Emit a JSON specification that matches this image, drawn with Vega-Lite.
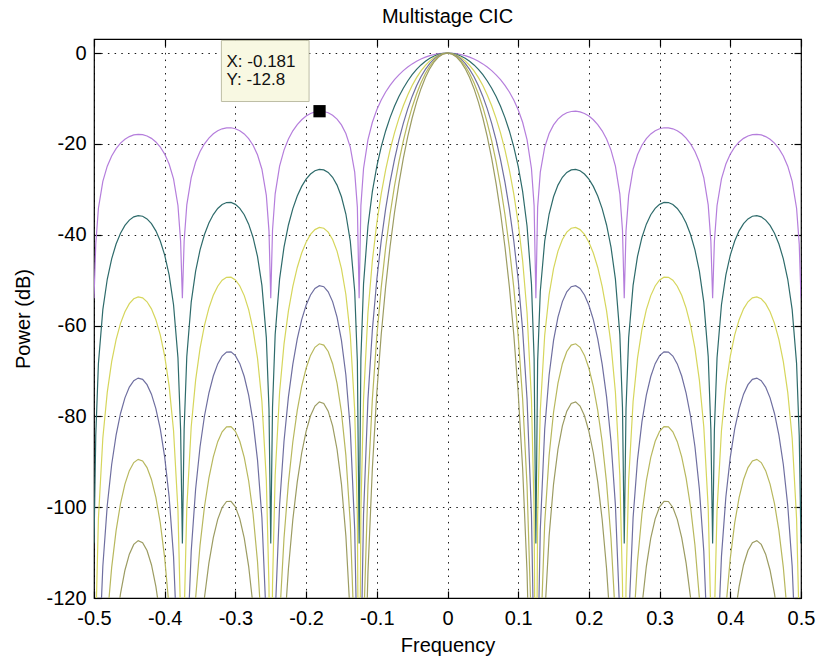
{
  "$schema": "https://vega.github.io/schema/vega-lite/v6.json",
  "width": 707,
  "height": 559,
  "autosize": "none",
  "padding": {"left": 94, "top": 39, "right": 18, "bottom": 63},
  "background": "white",
  "title": {"text": "Multistage CIC", "font": "Liberation Sans", "fontSize": 20, "fontWeight": "normal", "color": "#000", "offset": 11},
  "config": {"view": {"stroke": "#000", "strokeWidth": 1.2}},
  "datasets": {
    "cic": [
      {"f":-0.5,"s1":-54,"s2":-108,"s3":-162,"s4":-216,"s5":-270,"s6":-324},
      {"f":-0.4975,"s1":-42.1,"s2":-84.21,"s3":-126.31,"s4":-168.42,"s5":-210.52,"s6":-252.62},
      {"f":-0.49375,"s1":-34.17,"s2":-68.35,"s3":-102.52,"s4":-136.69,"s5":-170.87,"s6":-205.04},
      {"f":-0.4875,"s1":-28.26,"s2":-56.51,"s3":-84.77,"s4":-113.02,"s5":-141.28,"s6":-169.53},
      {"f":-0.48125,"s1":-24.91,"s2":-49.81,"s3":-74.72,"s4":-99.62,"s5":-124.53,"s6":-149.44},
      {"f":-0.475,"s1":-22.65,"s2":-45.3,"s3":-67.95,"s4":-90.6,"s5":-113.26,"s6":-135.91},
      {"f":-0.46875,"s1":-21.03,"s2":-42.06,"s3":-63.09,"s4":-84.12,"s5":-105.15,"s6":-126.18},
      {"f":-0.4625,"s1":-19.84,"s2":-39.68,"s3":-59.53,"s4":-79.37,"s5":-99.21,"s6":-119.05},
      {"f":-0.45625,"s1":-18.98,"s2":-37.96,"s3":-56.95,"s4":-75.93,"s5":-94.91,"s6":-113.89},
      {"f":-0.45,"s1":-18.39,"s2":-36.78,"s3":-55.17,"s4":-73.56,"s5":-91.95,"s6":-110.34},
      {"f":-0.44375,"s1":-18.03,"s2":-36.07,"s3":-54.1,"s4":-72.14,"s5":-90.17,"s6":-108.2},
      {"f":-0.4375,"s1":-17.89,"s2":-35.79,"s3":-53.68,"s4":-71.57,"s5":-89.47,"s6":-107.36},
      {"f":-0.43125,"s1":-17.97,"s2":-35.93,"s3":-53.9,"s4":-71.86,"s5":-89.83,"s6":-107.8},
      {"f":-0.425,"s1":-18.26,"s2":-36.51,"s3":-54.77,"s4":-73.02,"s5":-91.28,"s6":-109.53},
      {"f":-0.41875,"s1":-18.78,"s2":-37.56,"s3":-56.33,"s4":-75.11,"s5":-93.89,"s6":-112.67},
      {"f":-0.4125,"s1":-19.57,"s2":-39.14,"s3":-58.71,"s4":-78.28,"s5":-97.86,"s6":-117.43},
      {"f":-0.40625,"s1":-20.69,"s2":-41.38,"s3":-62.07,"s4":-82.76,"s5":-103.45,"s6":-124.14},
      {"f":-0.4,"s1":-22.24,"s2":-44.48,"s3":-66.73,"s4":-88.97,"s5":-111.21,"s6":-133.45},
      {"f":-0.39375,"s1":-24.43,"s2":-48.86,"s3":-73.28,"s4":-97.71,"s5":-122.14,"s6":-146.57},
      {"f":-0.3875,"s1":-27.71,"s2":-55.42,"s3":-83.12,"s4":-110.83,"s5":-138.54,"s6":-166.25},
      {"f":-0.38125,"s1":-33.56,"s2":-67.11,"s3":-100.67,"s4":-134.22,"s5":-167.78,"s6":-201.34},
      {"f":-0.3775,"s1":-41.44,"s2":-82.89,"s3":-124.33,"s4":-165.78,"s5":-207.22,"s6":-248.66},
      {"f":-0.375,"s1":-54,"s2":-108,"s3":-162,"s4":-216,"s5":-270,"s6":-324},
      {"f":-0.3725,"s1":-41.39,"s2":-82.78,"s3":-124.16,"s4":-165.55,"s5":-206.94,"s6":-248.33},
      {"f":-0.36875,"s1":-33.42,"s2":-66.83,"s3":-100.25,"s4":-133.66,"s5":-167.08,"s6":-200.49},
      {"f":-0.3625,"s1":-27.43,"s2":-54.85,"s3":-82.28,"s4":-109.7,"s5":-137.13,"s6":-164.55},
      {"f":-0.35625,"s1":-24,"s2":-48.01,"s3":-72.01,"s4":-96.01,"s5":-120.02,"s6":-144.02},
      {"f":-0.35,"s1":-21.68,"s2":-43.35,"s3":-65.03,"s4":-86.7,"s5":-108.38,"s6":-130.06},
      {"f":-0.34375,"s1":-19.98,"s2":-39.96,"s3":-59.94,"s4":-79.92,"s5":-99.9,"s6":-119.88},
      {"f":-0.3375,"s1":-18.72,"s2":-37.44,"s3":-56.15,"s4":-74.87,"s5":-93.59,"s6":-112.31},
      {"f":-0.33125,"s1":-17.78,"s2":-35.56,"s3":-53.34,"s4":-71.12,"s5":-88.91,"s6":-106.69},
      {"f":-0.325,"s1":-17.11,"s2":-34.23,"s3":-51.34,"s4":-68.45,"s5":-85.57,"s6":-102.68},
      {"f":-0.31875,"s1":-16.68,"s2":-33.36,"s3":-50.03,"s4":-66.71,"s5":-83.39,"s6":-100.07},
      {"f":-0.3125,"s1":-16.46,"s2":-32.92,"s3":-49.38,"s4":-65.84,"s5":-82.3,"s6":-98.75},
      {"f":-0.30625,"s1":-16.45,"s2":-32.9,"s3":-49.35,"s4":-65.8,"s5":-82.25,"s6":-98.7},
      {"f":-0.3,"s1":-16.66,"s2":-33.31,"s3":-49.97,"s4":-66.63,"s5":-83.29,"s6":-99.94},
      {"f":-0.29375,"s1":-17.1,"s2":-34.19,"s3":-51.29,"s4":-68.39,"s5":-85.49,"s6":-102.58},
      {"f":-0.2875,"s1":-17.8,"s2":-35.61,"s3":-53.41,"s4":-71.22,"s5":-89.02,"s6":-106.82},
      {"f":-0.28125,"s1":-18.84,"s2":-37.67,"s3":-56.51,"s4":-75.34,"s5":-94.18,"s6":-113.02},
      {"f":-0.275,"s1":-20.3,"s2":-40.6,"s3":-60.9,"s4":-81.2,"s5":-101.5,"s6":-121.79},
      {"f":-0.26875,"s1":-22.39,"s2":-44.79,"s3":-67.18,"s4":-89.57,"s5":-111.97,"s6":-134.36},
      {"f":-0.2625,"s1":-25.58,"s2":-51.16,"s3":-76.74,"s4":-102.32,"s5":-127.9,"s6":-153.48},
      {"f":-0.25625,"s1":-31.33,"s2":-62.66,"s3":-94,"s4":-125.33,"s5":-156.66,"s6":-187.99},
      {"f":-0.2525,"s1":-39.16,"s2":-78.32,"s3":-117.48,"s4":-156.64,"s5":-195.81,"s6":-234.97},
      {"f":-0.25,"s1":-54,"s2":-108,"s3":-162,"s4":-216,"s5":-270,"s6":-324},
      {"f":-0.2475,"s1":-39.03,"s2":-78.05,"s3":-117.08,"s4":-156.1,"s5":-195.13,"s6":-234.15},
      {"f":-0.24375,"s1":-30.99,"s2":-61.98,"s3":-92.97,"s4":-123.96,"s5":-154.95,"s6":-185.94},
      {"f":-0.2375,"s1":-24.9,"s2":-49.79,"s3":-74.69,"s4":-99.59,"s5":-124.49,"s6":-149.38},
      {"f":-0.23125,"s1":-21.37,"s2":-42.73,"s3":-64.1,"s4":-85.47,"s5":-106.84,"s6":-128.2},
      {"f":-0.225,"s1":-18.93,"s2":-37.86,"s3":-56.79,"s4":-75.72,"s5":-94.65,"s6":-113.57},
      {"f":-0.21875,"s1":-17.12,"s2":-34.24,"s3":-51.36,"s4":-68.48,"s5":-85.6,"s6":-102.71},
      {"f":-0.2125,"s1":-15.74,"s2":-31.48,"s3":-47.21,"s4":-62.95,"s5":-78.69,"s6":-94.43},
      {"f":-0.20625,"s1":-14.68,"s2":-29.36,"s3":-44.03,"s4":-58.71,"s5":-73.39,"s6":-88.07},
      {"f":-0.2,"s1":-13.88,"s2":-27.76,"s3":-41.65,"s4":-55.53,"s5":-69.41,"s6":-83.29},
      {"f":-0.19375,"s1":-13.31,"s2":-26.63,"s3":-39.94,"s4":-53.26,"s5":-66.57,"s6":-79.88},
      {"f":-0.1875,"s1":-12.96,"s2":-25.91,"s3":-38.87,"s4":-51.83,"s5":-64.79,"s6":-77.74},
      {"f":-0.18125,"s1":-12.8,"s2":-25.61,"s3":-38.41,"s4":-51.22,"s5":-64.02,"s6":-76.82},
      {"f":-0.175,"s1":-12.86,"s2":-25.72,"s3":-38.58,"s4":-51.44,"s5":-64.3,"s6":-77.15},
      {"f":-0.16875,"s1":-13.14,"s2":-26.28,"s3":-39.42,"s4":-52.56,"s5":-65.71,"s6":-78.85},
      {"f":-0.1625,"s1":-13.68,"s2":-27.36,"s3":-41.05,"s4":-54.73,"s5":-68.41,"s6":-82.09},
      {"f":-0.15625,"s1":-14.54,"s2":-29.08,"s3":-43.62,"s4":-58.16,"s5":-72.7,"s6":-87.24},
      {"f":-0.15,"s1":-15.82,"s2":-31.64,"s3":-47.46,"s4":-63.28,"s5":-79.1,"s6":-94.91},
      {"f":-0.14375,"s1":-17.72,"s2":-35.44,"s3":-53.16,"s4":-70.88,"s5":-88.6,"s6":-106.31},
      {"f":-0.1375,"s1":-20.7,"s2":-41.4,"s3":-62.1,"s4":-82.8,"s5":-103.5,"s6":-124.19},
      {"f":-0.13125,"s1":-26.23,"s2":-52.46,"s3":-78.7,"s4":-104.93,"s5":-131.16,"s6":-157.39},
      {"f":-0.1275,"s1":-33.92,"s2":-67.85,"s3":-101.77,"s4":-135.69,"s5":-169.62,"s6":-203.54},
      {"f":-0.125,"s1":-54,"s2":-108,"s3":-162,"s4":-216,"s5":-270,"s6":-324},
      {"f":-0.1225,"s1":-33.59,"s2":-67.19,"s3":-100.78,"s4":-134.38,"s5":-167.97,"s6":-201.56},
      {"f":-0.11875,"s1":-25.41,"s2":-50.82,"s3":-76.22,"s4":-101.63,"s5":-127.04,"s6":-152.45},
      {"f":-0.1125,"s1":-19.05,"s2":-38.09,"s3":-57.14,"s4":-76.19,"s5":-95.24,"s6":-114.28},
      {"f":-0.10625,"s1":-15.23,"s2":-30.46,"s3":-45.69,"s4":-60.92,"s5":-76.15,"s6":-91.37},
      {"f":-0.1,"s1":-12.48,"s2":-24.95,"s3":-37.43,"s4":-49.91,"s5":-62.39,"s6":-74.86},
      {"f":-0.09375,"s1":-10.33,"s2":-20.66,"s3":-30.99,"s4":-41.32,"s5":-51.65,"s6":-61.97},
      {"f":-0.0875,"s1":-8.58,"s2":-17.15,"s3":-25.73,"s4":-34.3,"s5":-42.88,"s6":-51.46},
      {"f":-0.08125,"s1":-7.11,"s2":-14.22,"s3":-21.33,"s4":-28.44,"s5":-35.55,"s6":-42.65},
      {"f":-0.075,"s1":-5.86,"s2":-11.72,"s3":-17.58,"s4":-23.44,"s5":-29.31,"s6":-35.17},
      {"f":-0.06875,"s1":-4.79,"s2":-9.58,"s3":-14.37,"s4":-19.16,"s5":-23.95,"s6":-28.74},
      {"f":-0.0625,"s1":-3.87,"s2":-7.73,"s3":-11.6,"s4":-15.47,"s5":-19.34,"s6":-23.2},
      {"f":-0.05625,"s1":-3.07,"s2":-6.14,"s3":-9.21,"s4":-12.28,"s5":-15.35,"s6":-18.42},
      {"f":-0.05,"s1":-2.38,"s2":-4.77,"s3":-7.15,"s4":-9.54,"s5":-11.92,"s6":-14.3},
      {"f":-0.04375,"s1":-1.8,"s2":-3.6,"s3":-5.4,"s4":-7.2,"s5":-9,"s6":-10.79},
      {"f":-0.0375,"s1":-1.31,"s2":-2.61,"s3":-3.92,"s4":-5.22,"s5":-6.53,"s6":-7.84},
      {"f":-0.03125,"s1":-0.9,"s2":-1.8,"s3":-2.69,"s4":-3.59,"s5":-4.49,"s6":-5.39},
      {"f":-0.025,"s1":-0.57,"s2":-1.14,"s3":-1.71,"s4":-2.28,"s5":-2.85,"s6":-3.42},
      {"f":-0.01875,"s1":-0.32,"s2":-0.64,"s3":-0.96,"s4":-1.28,"s5":-1.6,"s6":-1.91},
      {"f":-0.0125,"s1":-0.14,"s2":-0.28,"s3":-0.42,"s4":-0.56,"s5":-0.71,"s6":-0.85},
      {"f":-0.00625,"s1":-0.04,"s2":-0.07,"s3":-0.11,"s4":-0.14,"s5":-0.18,"s6":-0.21},
      {"f":0,"s1":0,"s2":0,"s3":0,"s4":0,"s5":0,"s6":0},
      {"f":0.00625,"s1":-0.04,"s2":-0.07,"s3":-0.11,"s4":-0.14,"s5":-0.18,"s6":-0.21},
      {"f":0.0125,"s1":-0.14,"s2":-0.28,"s3":-0.42,"s4":-0.56,"s5":-0.71,"s6":-0.85},
      {"f":0.01875,"s1":-0.32,"s2":-0.64,"s3":-0.96,"s4":-1.28,"s5":-1.6,"s6":-1.91},
      {"f":0.025,"s1":-0.57,"s2":-1.14,"s3":-1.71,"s4":-2.28,"s5":-2.85,"s6":-3.42},
      {"f":0.03125,"s1":-0.9,"s2":-1.8,"s3":-2.69,"s4":-3.59,"s5":-4.49,"s6":-5.39},
      {"f":0.0375,"s1":-1.31,"s2":-2.61,"s3":-3.92,"s4":-5.22,"s5":-6.53,"s6":-7.84},
      {"f":0.04375,"s1":-1.8,"s2":-3.6,"s3":-5.4,"s4":-7.2,"s5":-9,"s6":-10.79},
      {"f":0.05,"s1":-2.38,"s2":-4.77,"s3":-7.15,"s4":-9.54,"s5":-11.92,"s6":-14.3},
      {"f":0.05625,"s1":-3.07,"s2":-6.14,"s3":-9.21,"s4":-12.28,"s5":-15.35,"s6":-18.42},
      {"f":0.0625,"s1":-3.87,"s2":-7.73,"s3":-11.6,"s4":-15.47,"s5":-19.34,"s6":-23.2},
      {"f":0.06875,"s1":-4.79,"s2":-9.58,"s3":-14.37,"s4":-19.16,"s5":-23.95,"s6":-28.74},
      {"f":0.075,"s1":-5.86,"s2":-11.72,"s3":-17.58,"s4":-23.44,"s5":-29.31,"s6":-35.17},
      {"f":0.08125,"s1":-7.11,"s2":-14.22,"s3":-21.33,"s4":-28.44,"s5":-35.55,"s6":-42.65},
      {"f":0.0875,"s1":-8.58,"s2":-17.15,"s3":-25.73,"s4":-34.3,"s5":-42.88,"s6":-51.46},
      {"f":0.09375,"s1":-10.33,"s2":-20.66,"s3":-30.99,"s4":-41.32,"s5":-51.65,"s6":-61.97},
      {"f":0.1,"s1":-12.48,"s2":-24.95,"s3":-37.43,"s4":-49.91,"s5":-62.39,"s6":-74.86},
      {"f":0.10625,"s1":-15.23,"s2":-30.46,"s3":-45.69,"s4":-60.92,"s5":-76.15,"s6":-91.37},
      {"f":0.1125,"s1":-19.05,"s2":-38.09,"s3":-57.14,"s4":-76.19,"s5":-95.24,"s6":-114.28},
      {"f":0.11875,"s1":-25.41,"s2":-50.82,"s3":-76.22,"s4":-101.63,"s5":-127.04,"s6":-152.45},
      {"f":0.1225,"s1":-33.59,"s2":-67.19,"s3":-100.78,"s4":-134.38,"s5":-167.97,"s6":-201.56},
      {"f":0.125,"s1":-54,"s2":-108,"s3":-162,"s4":-216,"s5":-270,"s6":-324},
      {"f":0.1275,"s1":-33.92,"s2":-67.85,"s3":-101.77,"s4":-135.69,"s5":-169.62,"s6":-203.54},
      {"f":0.13125,"s1":-26.23,"s2":-52.46,"s3":-78.7,"s4":-104.93,"s5":-131.16,"s6":-157.39},
      {"f":0.1375,"s1":-20.7,"s2":-41.4,"s3":-62.1,"s4":-82.8,"s5":-103.5,"s6":-124.19},
      {"f":0.14375,"s1":-17.72,"s2":-35.44,"s3":-53.16,"s4":-70.88,"s5":-88.6,"s6":-106.31},
      {"f":0.15,"s1":-15.82,"s2":-31.64,"s3":-47.46,"s4":-63.28,"s5":-79.1,"s6":-94.91},
      {"f":0.15625,"s1":-14.54,"s2":-29.08,"s3":-43.62,"s4":-58.16,"s5":-72.7,"s6":-87.24},
      {"f":0.1625,"s1":-13.68,"s2":-27.36,"s3":-41.05,"s4":-54.73,"s5":-68.41,"s6":-82.09},
      {"f":0.16875,"s1":-13.14,"s2":-26.28,"s3":-39.42,"s4":-52.56,"s5":-65.71,"s6":-78.85},
      {"f":0.175,"s1":-12.86,"s2":-25.72,"s3":-38.58,"s4":-51.44,"s5":-64.3,"s6":-77.15},
      {"f":0.18125,"s1":-12.8,"s2":-25.61,"s3":-38.41,"s4":-51.22,"s5":-64.02,"s6":-76.82},
      {"f":0.1875,"s1":-12.96,"s2":-25.91,"s3":-38.87,"s4":-51.83,"s5":-64.79,"s6":-77.74},
      {"f":0.19375,"s1":-13.31,"s2":-26.63,"s3":-39.94,"s4":-53.26,"s5":-66.57,"s6":-79.88},
      {"f":0.2,"s1":-13.88,"s2":-27.76,"s3":-41.65,"s4":-55.53,"s5":-69.41,"s6":-83.29},
      {"f":0.20625,"s1":-14.68,"s2":-29.36,"s3":-44.03,"s4":-58.71,"s5":-73.39,"s6":-88.07},
      {"f":0.2125,"s1":-15.74,"s2":-31.48,"s3":-47.21,"s4":-62.95,"s5":-78.69,"s6":-94.43},
      {"f":0.21875,"s1":-17.12,"s2":-34.24,"s3":-51.36,"s4":-68.48,"s5":-85.6,"s6":-102.71},
      {"f":0.225,"s1":-18.93,"s2":-37.86,"s3":-56.79,"s4":-75.72,"s5":-94.65,"s6":-113.57},
      {"f":0.23125,"s1":-21.37,"s2":-42.73,"s3":-64.1,"s4":-85.47,"s5":-106.84,"s6":-128.2},
      {"f":0.2375,"s1":-24.9,"s2":-49.79,"s3":-74.69,"s4":-99.59,"s5":-124.49,"s6":-149.38},
      {"f":0.24375,"s1":-30.99,"s2":-61.98,"s3":-92.97,"s4":-123.96,"s5":-154.95,"s6":-185.94},
      {"f":0.2475,"s1":-39.03,"s2":-78.05,"s3":-117.08,"s4":-156.1,"s5":-195.13,"s6":-234.15},
      {"f":0.25,"s1":-54,"s2":-108,"s3":-162,"s4":-216,"s5":-270,"s6":-324},
      {"f":0.2525,"s1":-39.16,"s2":-78.32,"s3":-117.48,"s4":-156.64,"s5":-195.81,"s6":-234.97},
      {"f":0.25625,"s1":-31.33,"s2":-62.66,"s3":-94,"s4":-125.33,"s5":-156.66,"s6":-187.99},
      {"f":0.2625,"s1":-25.58,"s2":-51.16,"s3":-76.74,"s4":-102.32,"s5":-127.9,"s6":-153.48},
      {"f":0.26875,"s1":-22.39,"s2":-44.79,"s3":-67.18,"s4":-89.57,"s5":-111.97,"s6":-134.36},
      {"f":0.275,"s1":-20.3,"s2":-40.6,"s3":-60.9,"s4":-81.2,"s5":-101.5,"s6":-121.79},
      {"f":0.28125,"s1":-18.84,"s2":-37.67,"s3":-56.51,"s4":-75.34,"s5":-94.18,"s6":-113.02},
      {"f":0.2875,"s1":-17.8,"s2":-35.61,"s3":-53.41,"s4":-71.22,"s5":-89.02,"s6":-106.82},
      {"f":0.29375,"s1":-17.1,"s2":-34.19,"s3":-51.29,"s4":-68.39,"s5":-85.49,"s6":-102.58},
      {"f":0.3,"s1":-16.66,"s2":-33.31,"s3":-49.97,"s4":-66.63,"s5":-83.29,"s6":-99.94},
      {"f":0.30625,"s1":-16.45,"s2":-32.9,"s3":-49.35,"s4":-65.8,"s5":-82.25,"s6":-98.7},
      {"f":0.3125,"s1":-16.46,"s2":-32.92,"s3":-49.38,"s4":-65.84,"s5":-82.3,"s6":-98.75},
      {"f":0.31875,"s1":-16.68,"s2":-33.36,"s3":-50.03,"s4":-66.71,"s5":-83.39,"s6":-100.07},
      {"f":0.325,"s1":-17.11,"s2":-34.23,"s3":-51.34,"s4":-68.45,"s5":-85.57,"s6":-102.68},
      {"f":0.33125,"s1":-17.78,"s2":-35.56,"s3":-53.34,"s4":-71.12,"s5":-88.91,"s6":-106.69},
      {"f":0.3375,"s1":-18.72,"s2":-37.44,"s3":-56.15,"s4":-74.87,"s5":-93.59,"s6":-112.31},
      {"f":0.34375,"s1":-19.98,"s2":-39.96,"s3":-59.94,"s4":-79.92,"s5":-99.9,"s6":-119.88},
      {"f":0.35,"s1":-21.68,"s2":-43.35,"s3":-65.03,"s4":-86.7,"s5":-108.38,"s6":-130.06},
      {"f":0.35625,"s1":-24,"s2":-48.01,"s3":-72.01,"s4":-96.01,"s5":-120.02,"s6":-144.02},
      {"f":0.3625,"s1":-27.43,"s2":-54.85,"s3":-82.28,"s4":-109.7,"s5":-137.13,"s6":-164.55},
      {"f":0.36875,"s1":-33.42,"s2":-66.83,"s3":-100.25,"s4":-133.66,"s5":-167.08,"s6":-200.49},
      {"f":0.3725,"s1":-41.39,"s2":-82.78,"s3":-124.16,"s4":-165.55,"s5":-206.94,"s6":-248.33},
      {"f":0.375,"s1":-54,"s2":-108,"s3":-162,"s4":-216,"s5":-270,"s6":-324},
      {"f":0.3775,"s1":-41.44,"s2":-82.89,"s3":-124.33,"s4":-165.78,"s5":-207.22,"s6":-248.66},
      {"f":0.38125,"s1":-33.56,"s2":-67.11,"s3":-100.67,"s4":-134.22,"s5":-167.78,"s6":-201.34},
      {"f":0.3875,"s1":-27.71,"s2":-55.42,"s3":-83.12,"s4":-110.83,"s5":-138.54,"s6":-166.25},
      {"f":0.39375,"s1":-24.43,"s2":-48.86,"s3":-73.28,"s4":-97.71,"s5":-122.14,"s6":-146.57},
      {"f":0.4,"s1":-22.24,"s2":-44.48,"s3":-66.73,"s4":-88.97,"s5":-111.21,"s6":-133.45},
      {"f":0.40625,"s1":-20.69,"s2":-41.38,"s3":-62.07,"s4":-82.76,"s5":-103.45,"s6":-124.14},
      {"f":0.4125,"s1":-19.57,"s2":-39.14,"s3":-58.71,"s4":-78.28,"s5":-97.86,"s6":-117.43},
      {"f":0.41875,"s1":-18.78,"s2":-37.56,"s3":-56.33,"s4":-75.11,"s5":-93.89,"s6":-112.67},
      {"f":0.425,"s1":-18.26,"s2":-36.51,"s3":-54.77,"s4":-73.02,"s5":-91.28,"s6":-109.53},
      {"f":0.43125,"s1":-17.97,"s2":-35.93,"s3":-53.9,"s4":-71.86,"s5":-89.83,"s6":-107.8},
      {"f":0.4375,"s1":-17.89,"s2":-35.79,"s3":-53.68,"s4":-71.57,"s5":-89.47,"s6":-107.36},
      {"f":0.44375,"s1":-18.03,"s2":-36.07,"s3":-54.1,"s4":-72.14,"s5":-90.17,"s6":-108.2},
      {"f":0.45,"s1":-18.39,"s2":-36.78,"s3":-55.17,"s4":-73.56,"s5":-91.95,"s6":-110.34},
      {"f":0.45625,"s1":-18.98,"s2":-37.96,"s3":-56.95,"s4":-75.93,"s5":-94.91,"s6":-113.89},
      {"f":0.4625,"s1":-19.84,"s2":-39.68,"s3":-59.53,"s4":-79.37,"s5":-99.21,"s6":-119.05},
      {"f":0.46875,"s1":-21.03,"s2":-42.06,"s3":-63.09,"s4":-84.12,"s5":-105.15,"s6":-126.18},
      {"f":0.475,"s1":-22.65,"s2":-45.3,"s3":-67.95,"s4":-90.6,"s5":-113.26,"s6":-135.91},
      {"f":0.48125,"s1":-24.91,"s2":-49.81,"s3":-74.72,"s4":-99.62,"s5":-124.53,"s6":-149.44},
      {"f":0.4875,"s1":-28.26,"s2":-56.51,"s3":-84.77,"s4":-113.02,"s5":-141.28,"s6":-169.53},
      {"f":0.49375,"s1":-34.17,"s2":-68.35,"s3":-102.52,"s4":-136.69,"s5":-170.87,"s6":-205.04},
      {"f":0.4975,"s1":-42.1,"s2":-84.21,"s3":-126.31,"s4":-168.42,"s5":-210.52,"s6":-252.62},
      {"f":0.5,"s1":-54,"s2":-108,"s3":-162,"s4":-216,"s5":-270,"s6":-324}
    ],
    "tip": [
      {"f": -0.181, "dB": -12.8, "lx": "X: -0.181", "ly": "Y: -12.8"}
    ]
  },
  "layer": [
    {
      "data": {"name": "cic"},
      "transform": [{"fold": ["s1", "s2", "s3", "s4", "s5", "s6"], "as": ["stage", "dB"]}],
      "mark": {"type": "line", "clip": true, "strokeWidth": 1.2},
      "encoding": {
        "x": {
          "field": "f", "type": "quantitative",
          "scale": {"domain": [-0.5, 0.5], "nice": false, "zero": false},
          "axis": {
            "values": [-0.5, -0.4, -0.3, -0.2, -0.1, 0, 0.1, 0.2, 0.3, 0.4, 0.5],
            "labelExpr": "datum.value < 0 ? '-' + format(-datum.value, '~g') : format(datum.value, '~g')",
            "title": "Frequency", "grid": true, "gridColor": "#000", "gridDash": [1.5, 5.2], "gridOpacity": 0.9,
            "domain": false, "tickSize": -7, "tickColor": "#000", "tickWidth": 1.2,
            "labelFont": "Liberation Sans", "labelFontSize": 20, "labelColor": "#000", "labelPadding": 17,
            "labelFlush": false, "labelOverlap": false,
            "titleFont": "Liberation Sans", "titleFontSize": 20, "titleFontWeight": "normal", "titleColor": "#000", "titlePadding": 7
          }
        },
        "y": {
          "field": "dB", "type": "quantitative",
          "scale": {"domain": [-120, 3.1], "nice": false, "zero": false},
          "axis": {
            "values": [-120, -100, -80, -60, -40, -20, 0],
            "labelExpr": "datum.value < 0 ? '-' + format(-datum.value, '~g') : format(datum.value, '~g')",
            "title": "Power (dB)", "grid": true, "gridColor": "#000", "gridDash": [1.5, 5.2], "gridOpacity": 0.9,
            "domain": false, "tickSize": -7, "tickColor": "#000", "tickWidth": 1.2,
            "labelFont": "Liberation Sans", "labelFontSize": 20, "labelColor": "#000", "labelPadding": 15,
            "labelFlush": false, "labelOverlap": false,
            "titleFont": "Liberation Sans", "titleFontSize": 20, "titleFontWeight": "normal", "titleColor": "#000", "titlePadding": 12
          }
        },
        "color": {
          "field": "stage", "type": "nominal",
          "scale": {"domain": ["s1", "s2", "s3", "s4", "s5", "s6"], "range": ["#b57edc", "#2e6b6b", "#d6d65c", "#6f6fa0", "#b8b85e", "#9c9c62"]},
          "legend": null
        }
      }
    },
    {
      "data": {"name": "tip"},
      "mark": {"type": "rect", "fill": "#f8f8e2", "stroke": "#bdbda5", "strokeWidth": 1},
      "encoding": {
        "x": {"datum": -0.3198, "type": "quantitative", "axis": null},
        "x2": {"datum": -0.1958},
        "y": {"datum": 2.78, "type": "quantitative", "axis": null},
        "y2": {"datum": -10.67}
      }
    },
    {
      "data": {"name": "tip"},
      "mark": {"type": "text", "align": "left", "baseline": "alphabetic", "dx": -93, "dy": -44.6, "font": "Liberation Sans", "fontSize": 17, "color": "#111"},
      "encoding": {
        "x": {"field": "f", "type": "quantitative", "axis": null},
        "y": {"field": "dB", "type": "quantitative", "axis": null},
        "text": {"field": "lx"}
      }
    },
    {
      "data": {"name": "tip"},
      "mark": {"type": "text", "align": "left", "baseline": "alphabetic", "dx": -93, "dy": -26.3, "font": "Liberation Sans", "fontSize": 17, "color": "#111"},
      "encoding": {
        "x": {"field": "f", "type": "quantitative", "axis": null},
        "y": {"field": "dB", "type": "quantitative", "axis": null},
        "text": {"field": "ly"}
      }
    },
    {
      "data": {"name": "tip"},
      "mark": {"type": "point", "shape": "square", "filled": true, "color": "#000", "size": 150, "opacity": 1},
      "encoding": {
        "x": {"field": "f", "type": "quantitative", "axis": {"orient": "top", "values": [-0.5, -0.4, -0.3, -0.2, -0.1, 0, 0.1, 0.2, 0.3, 0.4, 0.5], "labels": false, "title": null, "grid": false, "domain": false, "tickSize": -7, "tickColor": "#000", "tickWidth": 1.2}},
        "y": {"field": "dB", "type": "quantitative", "axis": {"orient": "right", "values": [-120, -100, -80, -60, -40, -20, 0], "labels": false, "title": null, "grid": false, "domain": false, "tickSize": -7, "tickColor": "#000", "tickWidth": 1.2}}
      }
    }
  ],
  "resolve": {"axis": {"x": "independent", "y": "independent"}}
}
